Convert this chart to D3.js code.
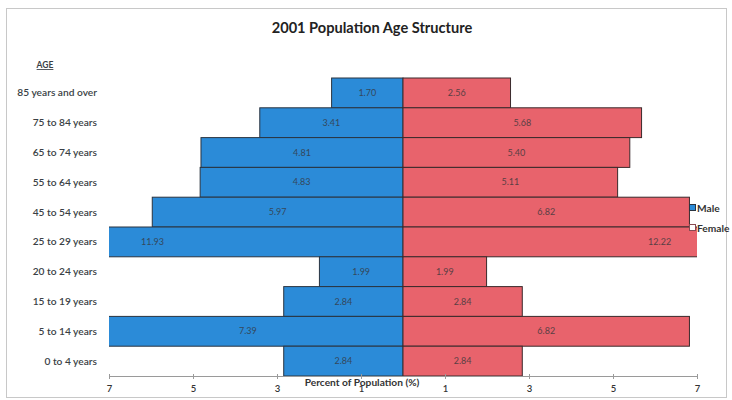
<!DOCTYPE html>
<html>
<head>
<meta charset="utf-8">
<script src="https://cdn.jsdelivr.net/npm/d3@7/dist/d3.min.js"></script>
<style>
  html, body { margin: 0; padding: 0; background: #fff; }
  svg { display: block; font-family: Lato, "Open Sans", sans-serif; }
</style>
</head>
<body>
<svg id="chart" width="732" height="400"></svg>
<script>
// Age groups, top of the pyramid first
const ageGroups = [
  "85 years and over", "75 to 84 years", "65 to 74 years", "55 to 64 years",
  "45 to 54 years", "25 to 29 years", "20 to 24 years", "15 to 19 years",
  "5 to 14 years", "0 to 4 years"
];
// Percent of population by sex
const maleValues   = [1.70, 3.41, 4.81, 4.83, 5.97, 11.93, 1.99, 2.84, 7.39, 2.84];
const femaleValues = [2.56, 5.68, 5.40, 5.11, 6.82, 12.22, 1.99, 2.84, 6.82, 2.84];
const tickValues = [-7, -5, -3, -1, 1, 3, 5, 7];
const seriesNames = ["Male", "Female"];

const colors = { Male: "#2b8bd8", Female: "#e8636c" };

const svg = d3.select("#chart");

// outer frame
svg.append("rect")
  .attr("x", 6.5).attr("y", 8.5).attr("width", 720).attr("height", 389)
  .attr("fill", "none").attr("stroke", "#c8c8c8").attr("stroke-width", 1);

const x = d3.scaleLinear().domain([-7, 7]).range([109, 697]);
const y = d3.scaleBand().domain(ageGroups).range([78, 376]).padding(0);

svg.append("defs").append("clipPath").attr("id", "plot-clip")
  .append("rect").attr("x", x(-7)).attr("y", 70).attr("width", x(7) - x(-7)).attr("height", 320);

const plot = svg.append("g").attr("clip-path", "url(#plot-clip)");

const rows = ageGroups.map((g, i) => ({ group: g, male: maleValues[i], female: femaleValues[i] }));

// male bars extend to the left of zero
plot.selectAll("rect.male").data(rows).join("rect")
  .attr("class", "male")
  .attr("x", d => x(-d.male))
  .attr("y", d => y(d.group))
  .attr("width", d => x(0) - x(-d.male))
  .attr("height", y.bandwidth())
  .attr("fill", colors.Male)
  .attr("stroke", "#2a3440").attr("stroke-width", 1);

// female bars extend to the right
plot.selectAll("rect.female").data(rows).join("rect")
  .attr("class", "female")
  .attr("x", x(0))
  .attr("y", d => y(d.group))
  .attr("width", d => x(d.female) - x(0))
  .attr("height", y.bandwidth())
  .attr("fill", colors.Female)
  .attr("stroke", "#3a2a2c").attr("stroke-width", 1);

// value labels centred on each bar
const fmt = d3.format(".2f");
svg.selectAll("text.mlab").data(rows).join("text")
  .attr("class", "mlab")
  .attr("x", d => x(-d.male / 2))
  .attr("y", d => y(d.group) + y.bandwidth() / 2 + 3)
  .attr("text-anchor", "middle")
  .attr("font-size", 9)
  .attr("fill", "#34485c")
  .text(d => fmt(d.male));

svg.selectAll("text.flab").data(rows).join("text")
  .attr("class", "flab")
  .attr("x", d => x(d.female / 2))
  .attr("y", d => y(d.group) + y.bandwidth() / 2 + 3)
  .attr("text-anchor", "middle")
  .attr("font-size", 9)
  .attr("fill", "#5a3f44")
  .text(d => fmt(d.female));

// category labels
svg.selectAll("text.cat").data(ageGroups).join("text")
  .attr("class", "cat")
  .attr("x", 97)
  .attr("y", d => y(d) + y.bandwidth() / 2 + 3.5)
  .attr("text-anchor", "end")
  .attr("font-size", 10.2)
  .attr("font-weight", 600)
  .attr("fill", "#3a3f45")
  .text(d => d);

svg.append("text")
  .attr("x", 45).attr("y", 68)
  .attr("text-anchor", "middle")
  .attr("font-size", 8.5).attr("font-weight", 700)
  .attr("fill", "#3a3f45")
  .attr("text-decoration", "underline")
  .text("AGE");

// horizontal axis
const axis = d3.axisBottom(x)
  .tickValues(tickValues)
  .tickFormat(d => Math.abs(d))
  .tickSize(3).tickSizeOuter(0);

const ax = svg.append("g").attr("transform", "translate(0,376)").call(axis);
ax.select(".domain").attr("stroke", "#9a9a9a");
ax.selectAll(".tick line").attr("stroke", "#9a9a9a").attr("y1", -2).attr("y2", 3);
ax.selectAll(".tick text")
  .attr("font-family", "Lato, sans-serif")
  .attr("font-size", 9.5).attr("font-weight", 600)
  .attr("fill", "#333").attr("dy", "1em");

svg.append("text")
  .attr("x", 362).attr("y", 386)
  .attr("text-anchor", "middle")
  .attr("font-size", 10.2).attr("font-weight", 700)
  .attr("fill", "#333")
  .text("Percent of Population (%)");

// title
svg.append("text")
  .attr("x", 372).attr("y", 33)
  .attr("text-anchor", "middle")
  .attr("font-size", 14.6).attr("font-weight", 700)
  .attr("fill", "#222")
  .text("2001 Population Age Structure");

// legend
const legend = svg.append("g");
seriesNames.forEach((name, i) => {
  const ly = 208 + i * 20;
  legend.append("rect")
    .attr("x", 689.5).attr("y", ly - 3.5).attr("width", 6).attr("height", 6)
    .attr("fill", i === 0 ? colors.Male : "#fff")
    .attr("stroke", i === 0 ? "#2a3440" : "#8a4a52").attr("stroke-width", 1);
  legend.append("text")
    .attr("x", 697).attr("y", ly + 3.5)
    .attr("font-size", 10.2).attr("font-weight", 700)
    .attr("fill", "#333")
    .text(name);
});
</script>
</body>
</html>
